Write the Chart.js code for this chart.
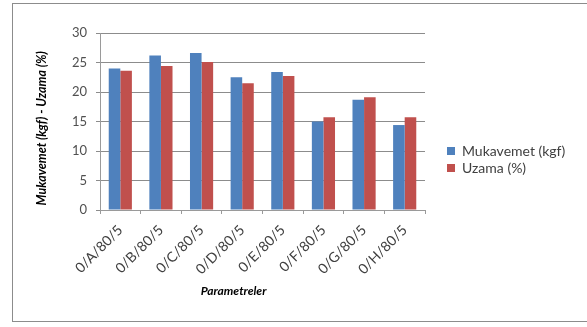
<!DOCTYPE html>
<html>
<head>
<meta charset="utf-8">
<script src="https://cdn.jsdelivr.net/npm/chart.js@4/dist/chart.umd.min.js"></script>
<style>
  html, body { margin: 0; padding: 0; background: #fff; }
  #wrap { position: relative; width: 587px; height: 327px; overflow: hidden; }
  #frame { position: absolute; left: 12px; top: 3px; width: 600px; height: 317px; border: 1px solid #8c8c8c; }
  canvas { position: absolute; left: 0; top: 0; }
</style>
</head>
<body>
<div id="wrap">
  <div id="frame"></div>
  <canvas id="c" width="587" height="327"></canvas>
</div>
<script>
// Parametre kombinasyonları
const categories = ['0/A/80/5', '0/B/80/5', '0/C/80/5', '0/D/80/5', '0/E/80/5', '0/F/80/5', '0/G/80/5', '0/H/80/5'];
// Mukavemet (kgf)
const mukavemet = [24.0, 26.2, 26.6, 22.5, 23.4, 15.0, 18.7, 14.4];
// Uzama (%)
const uzama = [23.6, 24.4, 25.1, 21.5, 22.7, 15.7, 19.1, 15.7];
// Y ekseni değerleri
const yTicks = [0, 5, 10, 15, 20, 25, 30];

const FONT = 'Lato, "Open Sans", sans-serif';

// Fixed legend column on the right, with its items placed beside the plot
const legendPlacement = {
  id: 'legendPlacement',
  beforeLayout(chart) {
    const lg = chart.legend;
    if (lg && !lg._fixedWidth) {
      const fit = lg.fit.bind(lg);
      lg.fit = function () { fit(); this.width = 162; };
      lg._fixedWidth = true;
    }
  },
  afterLayout(chart) {
    const lg = chart.legend;
    const dx = 444 - lg.left;
    const dy = 141 - lg.top;
    lg.left += dx; lg.right += dx;
    lg.top += dy; lg.bottom += dy;
  }
};

new Chart(document.getElementById('c'), {
  type: 'bar',
  data: {
    labels: categories,
    datasets: [
      { label: 'Mukavemet (kgf)', data: mukavemet, backgroundColor: '#4F81BD', borderWidth: 0 },
      { label: 'Uzama (%)', data: uzama, backgroundColor: '#C0504D', borderWidth: 0 }
    ]
  },
  plugins: [legendPlacement],
  options: {
    responsive: false,
    animation: false,
    devicePixelRatio: 1,
    layout: { padding: { left: 34, right: 0, top: 33, bottom: 29 } },
    datasets: { bar: { categoryPercentage: 0.57, barPercentage: 1.0 } },
    plugins: {
      tooltip: { enabled: false },
      legend: {
        position: 'right',
        align: 'start',
        labels: {
          boxWidth: 8, boxHeight: 8, padding: 3,
          color: '#404040',
          font: { family: FONT, size: 14 }
        }
      }
    },
    scales: {
      x: {
        offset: true,
        afterFit(scale) { scale.height = 88; },
        grid: { offset: true, drawOnChartArea: false, drawTicks: true, tickLength: 4, color: '#9a9a9a' },
        border: { display: true, color: '#9a9a9a' },
        ticks: {
          maxRotation: 45, minRotation: 45, padding: 8,
          color: '#404040', font: { family: FONT, size: 14 }
        },
        title: {
          display: true, text: 'Parametreler' + ' '.repeat(22), color: '#000',
          font: { family: FONT, size: 12, weight: 'bold', style: 'italic' },
          padding: { top: 4, bottom: 0 }
        }
      },
      y: {
        min: 0, max: 30,
        afterBuildTicks(scale) { scale.ticks = yTicks.map(v => ({ value: v })); },
        afterFit(scale) { scale.width = 66; },
        grid: { color: '#8c8c8c', drawTicks: true, tickLength: 4 },
        border: { display: true, color: '#9a9a9a' },
        ticks: {
          padding: 9, color: '#505050', font: { family: FONT, size: 13 }
        },
        title: {
          display: true, text: 'Mukavemet (kgf) - Uzama (%)' + ' '.repeat(5), color: '#000',
          font: { family: FONT, size: 12.5, weight: 'bold', style: 'italic' },
          padding: { top: 0, bottom: 4 }
        }
      }
    }
  }
});
</script>
</body>
</html>
